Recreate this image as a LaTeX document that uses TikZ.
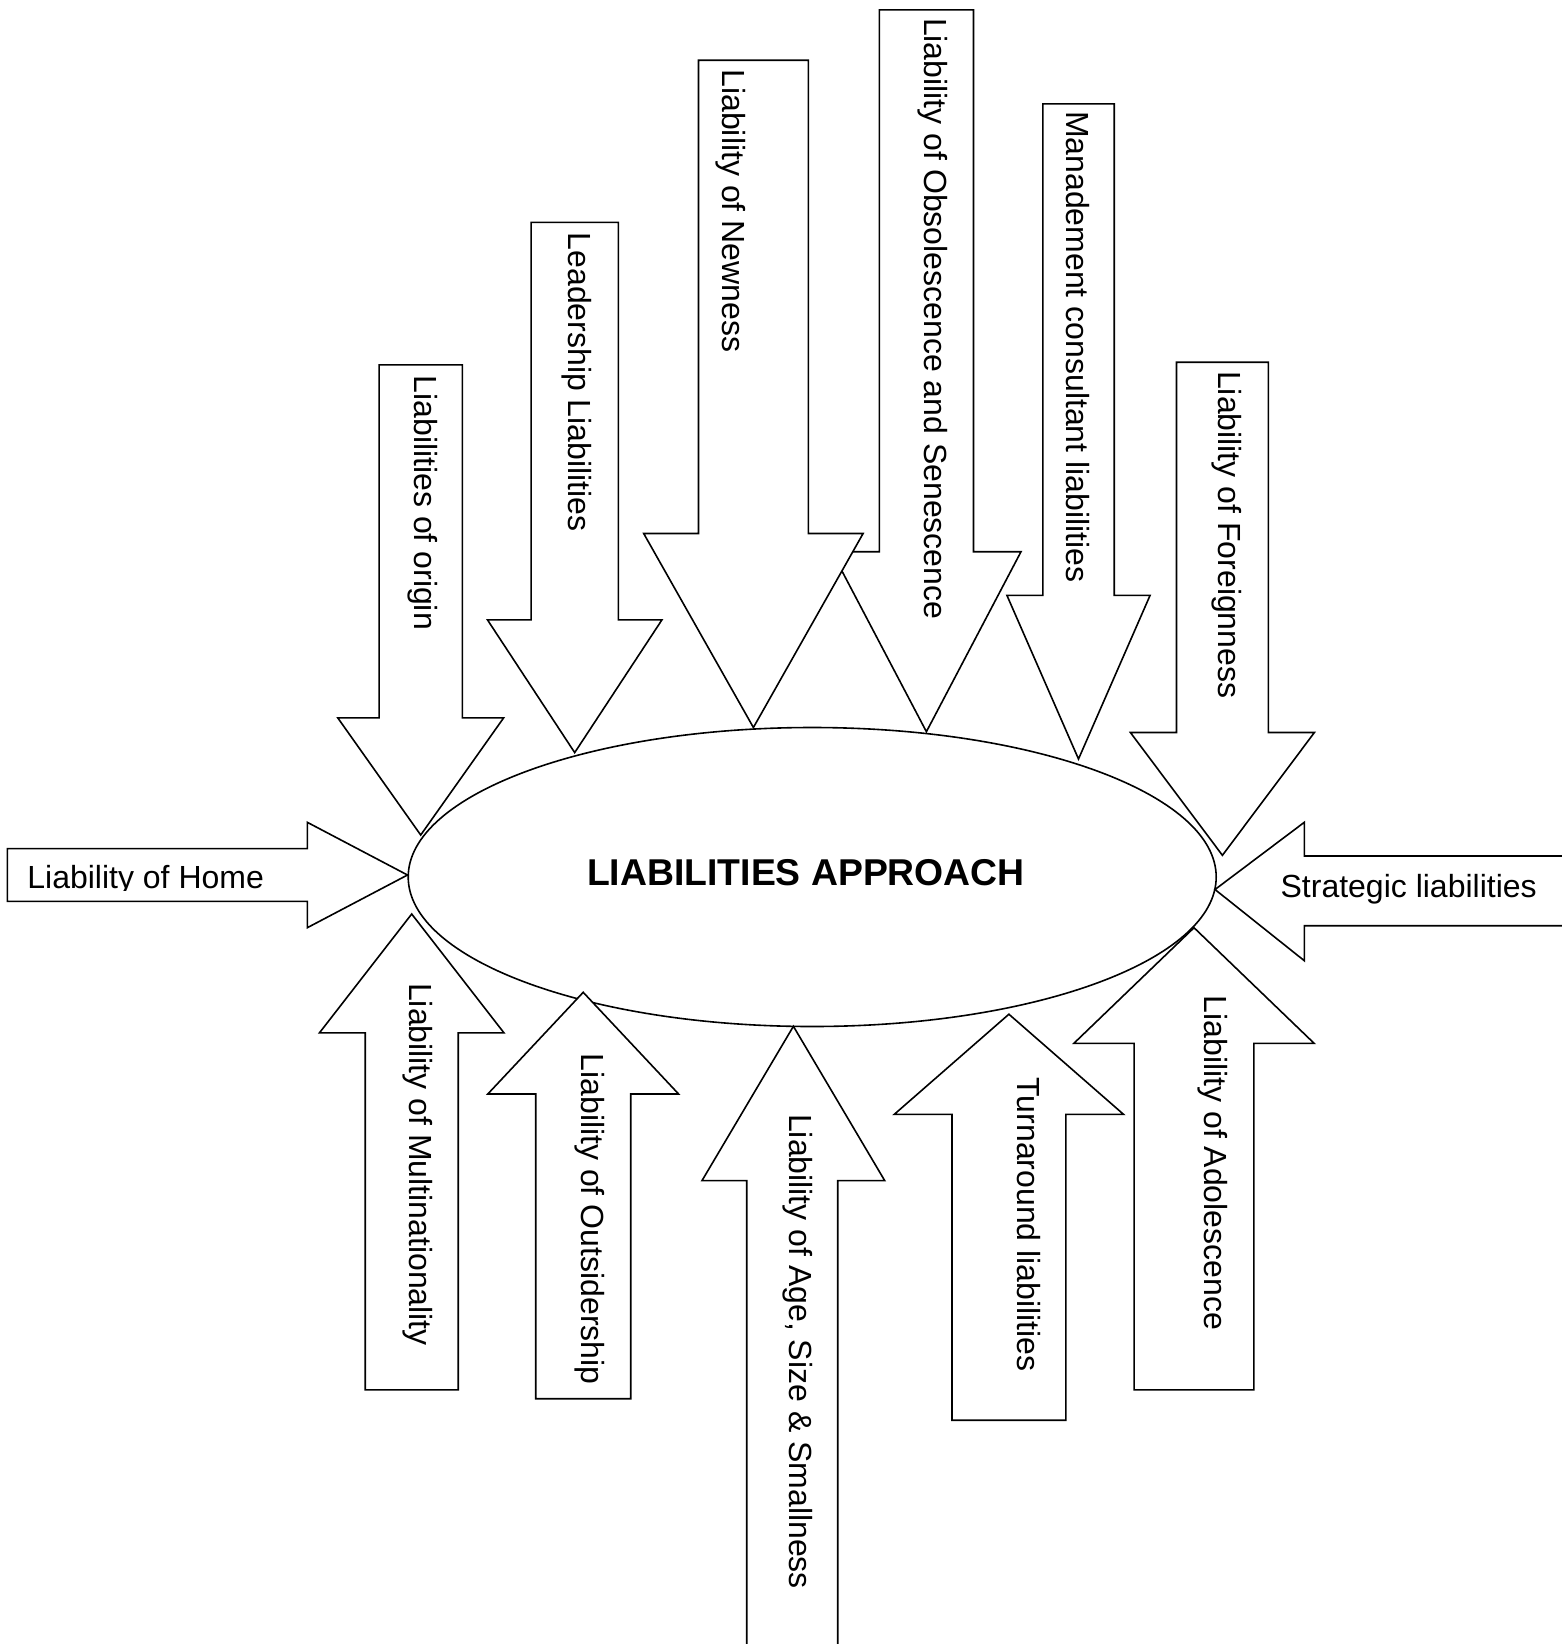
\documentclass[tikz,border=0pt]{standalone}
\usepackage{fontspec}
\setmainfont{Liberation Sans}
\usetikzlibrary{shapes.geometric}

% vertical block arrow: centre x, shaft half width, shaft end, head base, head half width, tip
\newcommand{\vblock}[6]{%
  \draw[blockarrow] ({#1-#2},#3) -- ({#1+#2},#3) -- ({#1+#2},#4) -- ({#1+#5},#4)
    -- (#1,#6) -- ({#1-#5},#4) -- ({#1-#2},#4) -- cycle;}
% horizontal block arrow: centre y, shaft half height, shaft end, head base, head half height, tip
\newcommand{\hblock}[6]{%
  \draw[blockarrow] (#3,{#1-#2}) -- (#4,{#1-#2}) -- (#4,{#1-#5}) -- (#6,#1)
    -- (#4,{#1+#5}) -- (#4,{#1+#2}) -- (#3,{#1+#2}) -- cycle;}

\tikzset{
  blockarrow/.style={draw=black, fill=white, line width=0.8pt, line join=miter},
  lbl/.style={inner sep=0pt, font=\fontsize{16}{19}\selectfont, anchor=base west},
  vlbl/.style={lbl, rotate=-90},
  titletext/.style={inner sep=0pt, font=\fontsize{18.67}{22}\selectfont\bfseries, anchor=base},
  core/.style={draw=black, fill=white, line width=0.8pt, ellipse, inner sep=0pt,
    minimum width=404pt, minimum height=149.5pt}
}

\begin{document}
\begin{tikzpicture}[x=0.5pt, y=-0.5pt]
  \useasboundingbox (0,0) rectangle (1562,1644);
  \fill[white] (0,0) rectangle (1562,1644);

  % central ellipse
  \node[core] (core) at (812.2,877) {};

  % arrows from above
  \vblock{420.7}{41.6}{364.8}{717.9}{82.9}{835}      % origin
  \vblock{574.7}{43.6}{222.4}{619.9}{87.2}{752.6}    % leadership
  \vblock{926.4}{47.1}{9.8}{551.7}{94.6}{731.7}      % obsolescence
  \vblock{753.4}{54.9}{60.2}{533.5}{109.7}{727.5}    % newness
  \vblock{1078.5}{35.7}{103.9}{595.3}{71.6}{759}     % management
  \vblock{1222.4}{45.9}{362.2}{732.5}{92}{855.3}     % foreignness

  % arrows from the sides
  \hblock{875}{26.4}{7.3}{307.3}{52.7}{407.5}        % home
  \draw[blockarrow] (1562,856) -- (1304.3,856) -- (1304.3,822.3) -- (1215,889.5)
    -- (1304.3,960.7) -- (1304.3,925.7) -- (1562,925.7);   % strategic

  % arrows from below
  \vblock{411.7}{46.5}{1389.9}{1032.9}{92.3}{914}    % multinationality
  \vblock{583.2}{47.5}{1398.7}{1094}{95.4}{992.3}    % outsidership
  \draw[blockarrow] (746.7,1644) -- (746.7,1180.6) -- (702,1180.6) -- (793.4,1026.3)
    -- (884.7,1180.6) -- (837.7,1180.6) -- (837.7,1644);   % age, size
  \vblock{1008.9}{56.9}{1420.2}{1114.4}{114.7}{1014.2} % turnaround
  \vblock{1194}{59.9}{1389.9}{1043.4}{120.2}{927.7}  % adolescence

  % title
  \node[titletext] (title) at (806,885.8) {LIABILITIES APPROACH};

  % labels of the upper arrows
  \node[vlbl] (t-origin)  at (414.9,375.2) {Liabilities of origin};
  \node[vlbl] (t-leader)  at (568.9,232.4) {Leadership Liabilities};
  \node[vlbl] (t-new)     at (722.1,69.1)  {Liability of Newness};
  \node[vlbl] (t-obs)     at (924.1,17.7)  {Liability of Obsolescence and Senescence};
  \node[vlbl] (t-manage)  at (1066.3,110.7) {Manadement consultant liabilities};
  \node[vlbl] (t-foreign) at (1218.3,370.7) {Liability of Foreignness};

  % labels of the side arrows
  \begin{scope}
    \clip (7,840) rectangle (300,890);
    \node[lbl] (t-home) at (27,888.6) {Liability of Home};
  \end{scope}
  \node[lbl] (t-strat) at (1280.2,897.3) {Strategic liabilities};

  % labels of the lower arrows
  \node[vlbl] (t-multi)   at (409.8,982.7)  {Liability of Multinationality};
  \node[vlbl] (t-outside) at (581.7,1053.2) {Liability of Outsidership};
  \node[vlbl] (t-age)     at (789.5,1113.7) {Liability of Age, Size \& Smallness};
  \node[vlbl] (t-turn)    at (1017.4,1077)  {Turnaround liabilities};
  \node[vlbl] (t-adol)    at (1204.5,995.3) {Liability of Adolescence};
\end{tikzpicture}
\end{document}
